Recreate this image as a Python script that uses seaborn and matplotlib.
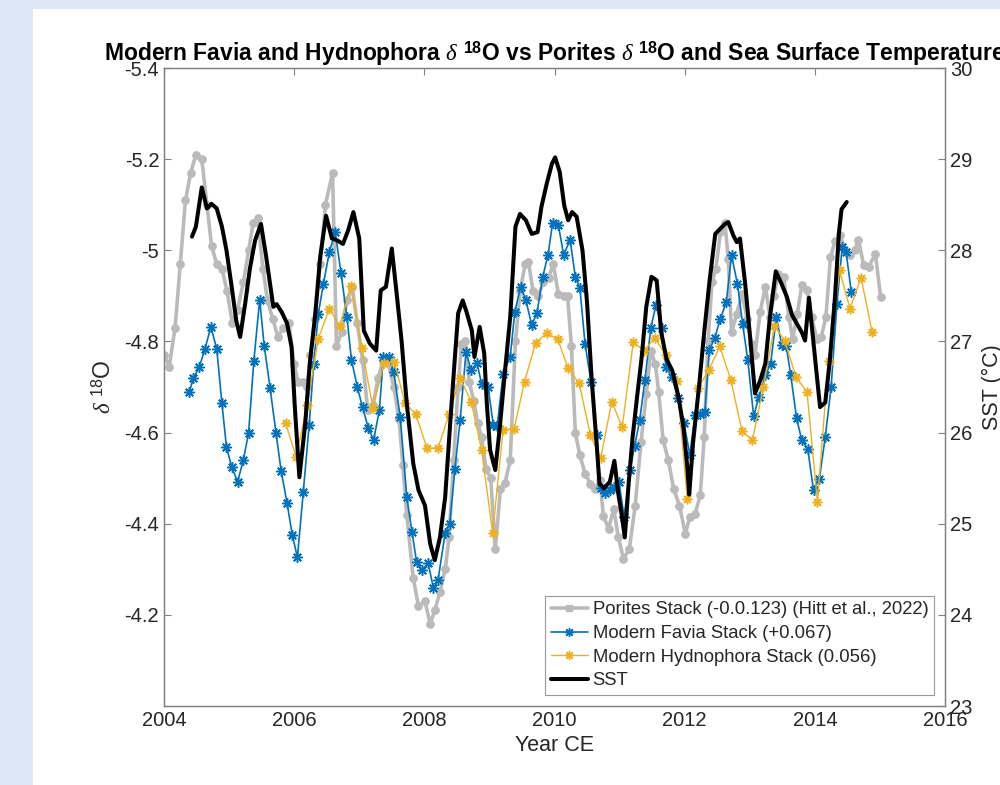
import numpy as np
import seaborn as sns
import matplotlib.pyplot as plt
from matplotlib.patches import Rectangle
from matplotlib.lines import Line2D

# Porites stack (-0.0.123), Hitt et al. 2022
porites_year = [
    2004.00, 2004.08, 2004.17, 2004.25, 2004.33, 2004.41, 2004.49, 2004.58,
    2004.66, 2004.73, 2004.81, 2004.89, 2004.97, 2005.05, 2005.13, 2005.22,
    2005.30, 2005.37, 2005.44, 2005.52, 2005.59, 2005.67, 2005.75, 2005.83,
    2005.92, 2006.00, 2006.06, 2006.13, 2006.20, 2006.25, 2006.32, 2006.40,
    2006.48, 2006.59, 2006.65, 2006.73, 2006.81, 2006.89, 2006.97, 2007.05,
    2007.13, 2007.21, 2007.29, 2007.37, 2007.45, 2007.53, 2007.61, 2007.67,
    2007.73, 2007.83, 2007.91, 2008.01, 2008.09, 2008.16, 2008.24, 2008.32,
    2008.38, 2008.45, 2008.52, 2008.57, 2008.63, 2008.69, 2008.76, 2008.82,
    2008.88, 2008.95, 2009.02, 2009.09, 2009.17, 2009.24, 2009.32, 2009.40,
    2009.47, 2009.55, 2009.60, 2009.67, 2009.75, 2009.83, 2009.91, 2009.98,
    2010.06, 2010.14, 2010.20, 2010.26, 2010.32, 2010.39, 2010.47, 2010.55,
    2010.62, 2010.70, 2010.75, 2010.83, 2010.91, 2010.98, 2011.06, 2011.15,
    2011.24, 2011.33, 2011.41, 2011.48, 2011.55, 2011.60, 2011.67, 2011.75,
    2011.83, 2011.92, 2012.01, 2012.08, 2012.16, 2012.24, 2012.30, 2012.36,
    2012.42, 2012.48, 2012.55, 2012.62, 2012.67, 2012.72, 2012.80, 2012.88,
    2012.96, 2013.03, 2013.08, 2013.16, 2013.24, 2013.31, 2013.37, 2013.44,
    2013.52, 2013.60, 2013.66, 2013.73, 2013.80, 2013.88, 2013.95, 2014.03,
    2014.10, 2014.17, 2014.24, 2014.31, 2014.39, 2014.47, 2014.54, 2014.61,
    2014.67, 2014.75, 2014.83, 2014.93, 2015.01,
]
porites_d18o = [
    -4.77, -4.745, -4.83, -4.97, -5.11, -5.17, -5.21, -5.20,
    -5.10, -5.01, -4.97, -4.96, -4.91, -4.84, -4.87, -4.93,
    -5.00, -5.06, -5.07, -4.96, -4.89, -4.85, -4.81, -4.83,
    -4.84, -4.75, -4.71, -4.71, -4.70, -4.77, -4.85, -4.97,
    -5.10, -5.17, -4.79, -4.82, -4.89, -4.92, -4.84, -4.76,
    -4.65, -4.66, -4.72, -4.76, -4.75, -4.70, -4.63, -4.53,
    -4.42, -4.28, -4.22, -4.23, -4.18, -4.21, -4.25, -4.30,
    -4.37, -4.54, -4.70, -4.795, -4.80, -4.71, -4.67, -4.62,
    -4.59, -4.52, -4.50, -4.345, -4.477, -4.49, -4.54, -4.80,
    -4.91, -4.97, -4.975, -4.91, -4.90, -4.93, -4.94, -4.97,
    -4.905, -4.90, -4.90, -4.79, -4.60, -4.55, -4.51, -4.488,
    -4.477, -4.495, -4.418, -4.389, -4.433, -4.371, -4.323, -4.345,
    -4.44, -4.58, -4.685, -4.78, -4.75, -4.69, -4.583, -4.539,
    -4.477, -4.44, -4.378, -4.415, -4.422, -4.462, -4.59, -4.80,
    -4.93, -4.96, -5.04, -5.06, -4.98, -4.82, -4.86, -4.905,
    -4.85, -4.795, -4.77, -4.865, -4.92, -4.854, -4.90, -4.949,
    -4.942, -4.854, -4.806, -4.86, -4.923, -4.912, -4.854, -4.806,
    -4.81, -4.854, -4.985, -5.02, -5.033, -5.00, -4.989, -5.00,
    -5.023, -4.968, -4.964, -4.993, -4.898,
]

# Modern Favia stack (+0.067)
favia_year = [
    2004.39, 2004.45, 2004.54, 2004.63, 2004.72, 2004.81, 2004.89, 2004.96,
    2005.04, 2005.13, 2005.22, 2005.30, 2005.38, 2005.47, 2005.54, 2005.63,
    2005.72, 2005.80, 2005.89, 2005.97, 2006.05, 2006.14, 2006.23, 2006.30,
    2006.37, 2006.45, 2006.54, 2006.63, 2006.72, 2006.81, 2006.88, 2006.97,
    2007.05, 2007.14, 2007.22, 2007.31, 2007.37, 2007.45, 2007.53, 2007.63,
    2007.73, 2007.81, 2007.88, 2007.96, 2008.06, 2008.14, 2008.21, 2008.32,
    2008.39, 2008.47, 2008.55, 2008.64, 2008.72, 2008.81, 2008.88, 2008.98,
    2009.06, 2009.12, 2009.21, 2009.32, 2009.39, 2009.48, 2009.56, 2009.65,
    2009.73, 2009.82, 2009.90, 2009.97, 2010.06, 2010.14, 2010.24, 2010.32,
    2010.39, 2010.47, 2010.56, 2010.65, 2010.71, 2010.78, 2010.85, 2010.92,
    2010.99, 2011.07, 2011.16, 2011.23, 2011.31, 2011.39, 2011.48, 2011.56,
    2011.65, 2011.71, 2011.80, 2011.90, 2011.99, 2012.08, 2012.16, 2012.24,
    2012.31, 2012.38, 2012.46, 2012.55, 2012.64, 2012.72, 2012.81, 2012.89,
    2012.97, 2013.06, 2013.14, 2013.24, 2013.32, 2013.41, 2013.49, 2013.56,
    2013.63, 2013.72, 2013.80, 2013.89, 2013.98, 2014.07, 2014.16, 2014.25,
    2014.34, 2014.42, 2014.48, 2014.56,
]
favia_d18o = [
    -4.689, -4.719, -4.743, -4.784, -4.832, -4.784, -4.664, -4.568,
    -4.525, -4.492, -4.54, -4.60, -4.757, -4.892, -4.79, -4.698,
    -4.60, -4.516, -4.446, -4.376, -4.326, -4.47, -4.616, -4.75,
    -4.86, -4.927, -4.996, -5.04, -4.95, -4.854, -4.76, -4.70,
    -4.656, -4.61, -4.583, -4.65, -4.766, -4.766, -4.733, -4.634,
    -4.459, -4.382, -4.317, -4.298, -4.313, -4.258, -4.276, -4.38,
    -4.40, -4.521, -4.627, -4.777, -4.737, -4.752, -4.707, -4.70,
    -4.616, -4.615, -4.729, -4.767, -4.865, -4.92, -4.891, -4.836,
    -4.862, -4.942, -4.99, -5.059, -5.055, -4.99, -5.023, -4.942,
    -4.917, -4.794, -4.712, -4.595, -4.478, -4.467, -4.474, -4.48,
    -4.492, -4.415, -4.518, -4.57, -4.628, -4.716, -4.83, -4.88,
    -4.829, -4.745, -4.723, -4.675, -4.62, -4.551, -4.639, -4.64,
    -4.645, -4.781, -4.807, -4.85, -4.887, -4.989, -4.927, -4.839,
    -4.759, -4.636, -4.678, -4.726, -4.751, -4.854, -4.792, -4.79,
    -4.726, -4.631, -4.583, -4.565, -4.473, -4.499, -4.59, -4.70,
    -4.883, -5.007, -4.996, -4.909,
]

# Modern Hydnophora stack (0.056)
hydno_year = [
    2005.87, 2006.03, 2006.20, 2006.37, 2006.54, 2006.70, 2006.87, 2007.04,
    2007.21, 2007.38, 2007.54, 2007.70, 2007.87, 2008.04, 2008.21, 2008.38,
    2008.55, 2008.72, 2008.88, 2009.05, 2009.21, 2009.38, 2009.54, 2009.71,
    2009.88, 2010.05, 2010.21, 2010.38, 2010.55, 2010.71, 2010.88, 2011.04,
    2011.21, 2011.38, 2011.54, 2011.71, 2011.88, 2012.04, 2012.20, 2012.37,
    2012.54, 2012.71, 2012.88, 2013.04, 2013.21, 2013.38, 2013.54, 2013.71,
    2013.88, 2014.04, 2014.21, 2014.38, 2014.54, 2014.71, 2014.88,
]
hydno_d18o = [
    -4.62, -4.547, -4.66, -4.806, -4.872, -4.834, -4.921, -4.785,
    -4.655, -4.752, -4.756, -4.666, -4.64, -4.566, -4.566, -4.64,
    -4.72, -4.668, -4.562, -4.38, -4.606, -4.609, -4.712, -4.797,
    -4.818, -4.805, -4.741, -4.708, -4.595, -4.544, -4.668, -4.612,
    -4.798, -4.78, -4.808, -4.77, -4.714, -4.455, -4.697, -4.737,
    -4.789, -4.715, -4.604, -4.583, -4.70, -4.835, -4.801, -4.722,
    -4.689, -4.448, -4.758, -4.956, -4.872, -4.94, -4.821,
]

# Sea surface temperature (right axis)
sst_year = [
    2004.43, 2004.49, 2004.58, 2004.66, 2004.73, 2004.81, 2004.89, 2004.96,
    2005.04, 2005.11, 2005.17, 2005.25, 2005.32, 2005.40, 2005.49, 2005.57,
    2005.63, 2005.68, 2005.73, 2005.81, 2005.89, 2005.96, 2006.01, 2006.08,
    2006.17, 2006.24, 2006.32, 2006.40, 2006.49, 2006.58, 2006.66, 2006.75,
    2006.83, 2006.91, 2007.00, 2007.07, 2007.16, 2007.26, 2007.33, 2007.41,
    2007.50, 2007.58, 2007.65, 2007.73, 2007.83, 2007.91, 2008.01, 2008.09,
    2008.16, 2008.24, 2008.32, 2008.40, 2008.47, 2008.52, 2008.59, 2008.65,
    2008.73, 2008.77, 2008.85, 2008.92, 2008.96, 2009.01, 2009.09, 2009.16,
    2009.24, 2009.32, 2009.40, 2009.47, 2009.56, 2009.65, 2009.74, 2009.80,
    2009.88, 2009.96, 2010.01, 2010.08, 2010.15, 2010.21, 2010.27, 2010.34,
    2010.43, 2010.50, 2010.57, 2010.65, 2010.69, 2010.76, 2010.85, 2010.92,
    2010.98, 2011.03, 2011.08, 2011.14, 2011.20, 2011.27, 2011.34, 2011.41,
    2011.49, 2011.57, 2011.64, 2011.72, 2011.81, 2011.90, 2011.98, 2012.04,
    2012.07, 2012.13, 2012.22, 2012.30, 2012.38, 2012.47, 2012.55, 2012.62,
    2012.67, 2012.75, 2012.80, 2012.85, 2012.93, 2013.01, 2013.08, 2013.16,
    2013.24, 2013.31, 2013.40, 2013.49, 2013.57, 2013.65, 2013.72, 2013.80,
    2013.85, 2013.91, 2013.98, 2014.08, 2014.16, 2014.23, 2014.31, 2014.37,
    2014.41, 2014.49,
]
sst_c = [
    28.15, 28.26, 28.69, 28.46, 28.51, 28.46, 28.26, 28.00,
    27.60, 27.23, 27.05, 27.43, 27.80, 28.11, 28.29, 27.93,
    27.63, 27.38, 27.41, 27.32, 27.20, 26.94, 26.28, 25.51,
    26.10, 26.76, 27.27, 27.93, 28.38, 28.13, 28.11, 28.07,
    28.22, 28.42, 28.13, 27.12, 26.98, 26.90, 27.56, 27.60,
    28.02, 27.49, 27.01, 26.32, 25.66, 25.37, 25.20, 24.78,
    24.60, 24.85, 25.29, 26.13, 26.83, 27.31, 27.45, 27.32,
    27.12, 26.83, 27.16, 26.87, 26.32, 25.81, 25.59, 26.06,
    26.68, 27.27, 28.26, 28.40, 28.33, 28.18, 28.20, 28.48,
    28.73, 28.95, 29.02, 28.86, 28.49, 28.33, 28.42, 28.37,
    28.00, 27.43, 26.60, 25.85, 25.44, 25.39, 25.46, 25.69,
    25.33, 25.11, 24.85, 25.45, 25.95, 26.40, 26.83, 27.38,
    27.71, 27.67, 27.10, 26.81, 26.68, 26.41, 26.07, 25.62,
    25.32, 25.90, 26.50, 27.10, 27.65, 28.18, 28.24, 28.29,
    28.31, 28.16, 28.09, 28.13, 27.63, 27.01, 26.43, 26.57,
    26.76, 27.27, 27.77, 27.63, 27.49, 27.29, 27.20, 27.10,
    27.01, 27.48, 26.98, 26.28, 26.33, 26.79, 27.49, 28.19,
    28.45, 28.53,
]

d18o_ticks = [-5.4, -5.2, -5.0, -4.8, -4.6, -4.4, -4.2]
d18o_ticklabels = ["-5.4", "-5.2", "-5", "-4.8", "-4.6", "-4.4", "-4.2"]
sst_ticks = [23, 24, 25, 26, 27, 28, 29, 30]
year_ticks = [2004, 2006, 2008, 2010, 2012, 2014, 2016]

labels = [
    "Porites Stack (-0.0.123) (Hitt et al., 2022)",
    "Modern Favia Stack (+0.067)",
    "Modern Hydnophora Stack (0.056)",
    "SST",
]

sns.set_theme(style="white")
plt.rcParams["font.family"] = ["Liberation Sans", "DejaVu Sans"]
plt.rcParams["mathtext.fontset"] = "custom"
plt.rcParams["mathtext.rm"] = "Liberation Sans"
plt.rcParams["mathtext.it"] = "Liberation Serif:italic"
plt.rcParams["mathtext.bf"] = "Liberation Sans:bold"

c_gray = "#bababa"
c_blue = "#0072bd"
c_yellow = "#edb120"
c_axis = "#808080"
c_text = "#262626"
asterisk = (8, 2, 0)

fig = plt.figure(figsize=(10, 7.85), dpi=100, facecolor="white")
# light blue strips of the page around the figure
fig.patches.append(Rectangle((0, 0), 0.033, 1, transform=fig.transFigure,
                             facecolor="#dce8f5", edgecolor="none", zorder=-10))
fig.patches.append(Rectangle((0, 0.9885), 1, 0.0115, transform=fig.transFigure,
                             facecolor="#dce8f5", edgecolor="none", zorder=-10))
ax = fig.add_axes([0.164, 0.1006, 0.781, 0.8127])
ax.set_facecolor("white")

sns.lineplot(x=porites_year, y=porites_d18o, ax=ax, color=c_gray, lw=2.6,
             marker="o", ms=5.5, mec=c_gray, mfc=c_gray, sort=False,
             legend=False)
sns.lineplot(x=favia_year, y=favia_d18o, ax=ax, color=c_blue, lw=1.2,
             marker=asterisk, ms=7.5, mec=c_blue, mew=1.1, sort=False,
             legend=False)
sns.lineplot(x=hydno_year, y=hydno_d18o, ax=ax, color=c_yellow, lw=1.0,
             marker=asterisk, ms=7, mec=c_yellow, mew=1.1, sort=False,
             legend=False)

ax.set_xlim(2004, 2016)
ax.set_ylim(-4.0, -5.4)
ax.set_xticks(year_ticks)
ax.set_yticks(d18o_ticks)
ax.set_yticklabels(d18o_ticklabels)
ax.tick_params(axis="both", direction="in", length=5, width=0.8,
               color=c_axis, labelcolor=c_text, labelsize=14.5,
               top=True, right=False)
ax.set_xlabel("Year CE", fontsize=15.5, color=c_text, labelpad=4)
ax.set_ylabel(r"$\delta$ $^{\mathrm{18}}$O", fontsize=16.5, color=c_text,
              labelpad=6)

ax2 = ax.twinx()
sns.lineplot(x=sst_year, y=sst_c, ax=ax2, color="black", lw=2.9,
             sort=False, legend=False)
ax2.set_ylim(23, 30)
ax2.set_yticks(sst_ticks)
ax2.tick_params(axis="y", direction="in", length=5, width=0.8,
                color=c_axis, labelcolor=c_text, labelsize=14.5)
ax2.set_ylabel("SST (°C)", fontsize=15.5, color=c_text, labelpad=7)

for a in (ax, ax2):
    for sp in a.spines.values():
        sp.set_color(c_axis)
        sp.set_linewidth(0.9)

ax.set_title(r"Modern Favia and Hydnophora $\delta$ $^{\mathbf{18}}$O vs Porites "
             r"$\delta$ $^{\mathbf{18}}$O and Sea Surface Temperature",
             fontsize=16.5, fontweight="bold", color="black", pad=5)

handles = [
    Line2D([], [], color=c_gray, lw=2.6, marker="s", ms=4.5, mfc=c_gray, mec=c_gray),
    Line2D([], [], color=c_blue, lw=1.2, marker=asterisk, ms=6.5, mec=c_blue),
    Line2D([], [], color=c_yellow, lw=1.0, marker=asterisk, ms=6.5, mec=c_yellow),
    Line2D([], [], color="black", lw=2.9),
]
leg = ax2.legend(handles, labels, loc="lower right", fontsize=13.3,
                 frameon=True, fancybox=False, edgecolor=c_axis,
                 handlelength=2.0, handletextpad=0.27, borderpad=0.3,
                 labelspacing=0.36, borderaxespad=0.6)
leg.get_frame().set_linewidth(0.8)
for t in leg.get_texts():
    t.set_color(c_text)

fig.savefig("out.png", dpi=100)
